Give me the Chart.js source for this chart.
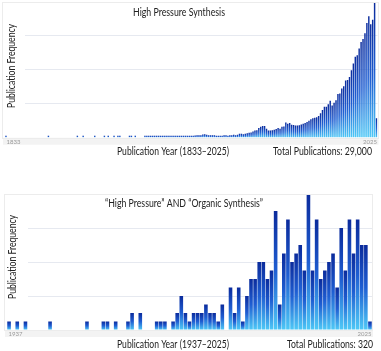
<!DOCTYPE html>
<html><head><meta charset="utf-8">
<script src="https://cdn.jsdelivr.net/npm/chart.js@4.4.0/dist/chart.umd.min.js"></script>
<style>
html,body{margin:0;padding:0;background:#fff;width:381px;height:351px;overflow:hidden}
.wrap{position:absolute;left:0;width:381px}
#w1{top:0;height:160px}
#w2{top:175px;height:176px}
canvas{display:block}
</style></head><body>
<div class="wrap" id="w1"><canvas id="c1" width="381" height="160"></canvas></div>
<div class="wrap" id="w2"><canvas id="c2" width="381" height="176"></canvas></div>
<script>
// ---- data ----
const years1 = [];
for (let y = 1833; y <= 2025; y++) years1.push(String(y));
const pubs1 = [
  // 1833-1904
  2,0,0,0,0,0,0,0,0,0,
  0,0,0,0,0,0,0,0,0,0,
  0,0,1,0,0,0,0,0,0,0,
  0,0,0,0,0,0,0,1,0,0,
  2,0,0,0,0,0,1,0,0,0,
  0,1,0,1,0,0,2,0,1,1,
  0,0,0,0,1,2,0,1,0,0,
  0,0,
  // 1905-1924
  4,3,5,4,6,5,4,6,7,5,6,8,7,6,8,9,7,8,10,9,
  // 1925-1958
  18,17,19,23,24,22,25,29,28,30,39,41,35,30,29,28,30,14,12,12,18,29,30,24,29,30,35,29,35,47,46,41,47,53,
  // 1959-1993
  58,61,74,85,88,114,129,137,139,106,86,84,87,94,102,114,106,129,133,180,165,173,153,149,145,143,146,156,165,173,185,200,218,229,235,
  // 1994-2025
  240,255,287,326,365,364,393,435,381,412,443,514,522,581,608,675,679,717,796,875,953,973,1051,1129,1164,1231,1352,1431,1337,1392,1595,228
];
const ticks1 = ['1833', '2025'];
const title1 = 'High Pressure Synthesis';
const xTitle1 = 'Publication Year (1833–2025)';
const total1 = 'Total Publications: 29,000';

const years2 = [];
for (let y = 1937; y <= 2025; y++) years2.push(String(y));
const pubs2 = [
  1,0,1,0,1,0,0,0,0,0,
  1,0,0,0,0,0,0,0,0,1,
  0,0,0,1,1,0,1,0,0,1,
  2,0,2,0,0,0,1,1,1,0,
  1,2,4,2,1,2,2,2,3,2,
  2,1,3,0,5,2,5,1,4,6,
  6,8,8,6,7,14,3,9,13,8,
  9,10,7,16,7,13,6,7,8,9,
  5,12,7,13,9,13,10,10,1
];
const ticks2 = ['1937', '2025'];
const title2 = '“High Pressure” AND “Organic Synthesis”';
const xTitle2 = 'Publication Year (1937–2025)';
const total2 = 'Total Publications: 320';
const yTitle = 'Publication Frequency';

// ---- helpers ----
const FONT = 'Lato, "Open Sans", sans-serif';
function drawText(c, text, x, y, align, size, width, color, rot) {
  c.save();
  c.font = size + 'px ' + FONT;
  c.fillStyle = color;
  c.textBaseline = 'middle';
  c.textAlign = align;
  const w = c.measureText(text).width;
  const sx = width ? width / w : 1;
  c.translate(x, y);
  if (rot) c.rotate(-Math.PI / 2);
  c.scale(sx, 1);
  c.fillText(text, 0, 0);
  c.restore();
}
function barGradient(minLen) {
  return function (ctx) {
    if (ctx.type !== 'data') return '#1f5fd2';
    const chart = ctx.chart;
    const ys = chart.scales.y;
    const v = ctx.raw;
    if (v == null || !chart.chartArea) return '#1f5fd2';
    const base = ys.getPixelForValue(0);
    const top = Math.min(ys.getPixelForValue(v), base - minLen);
    const g = chart.ctx.createLinearGradient(0, top, 0, base);
    g.addColorStop(0, '#0b2b9c');
    g.addColorStop(0.5, '#1f5ed2');
    g.addColorStop(1, '#4fcaf7');
    return g;
  };
}
function deco(cfg) {
  return {
    id: 'deco' + cfg.name,
    beforeDraw(chart) {
      const c = chart.ctx, a = chart.chartArea;
      c.save();
      c.fillStyle = '#f3f3f3';
      c.fillRect(a.left - 2, a.bottom, a.right - a.left + 3, cfg.bandH);
      c.restore();
    },
    beforeDatasetsDraw(chart) {
      const c = chart.ctx, a = chart.chartArea;
      c.save();
      c.fillStyle = '#fff';
      c.fillRect(a.left, a.top + 1, cfg.gridStart - a.left, a.bottom - a.top - 2);
      c.restore();
    },
    afterDraw(chart) {
      const c = chart.ctx, a = chart.chartArea;
      c.save();
      c.strokeStyle = '#ececec';
      c.lineWidth = 1;
      c.strokeRect(Math.round(a.left) - 2.5, Math.round(a.top) + 0.5, Math.round(a.right - a.left) + 3, Math.round(a.bottom - a.top));
      c.restore();
      const t = cfg.texts;
      drawText(c, t.title, t.titleX, t.titleY, 'center', 10.5, t.titleW, '#222');
      drawText(c, yTitle, t.yX, t.yY, 'center', 10.5, 84, '#222', true);
      drawText(c, t.xTitle, t.xX, t.footY, 'center', 10.5, t.xW, '#222');
      drawText(c, t.total, t.totR, t.footY, 'right', 10.5, t.totW, '#222');
      drawText(c, t.ticks[0], a.left + 1.5, t.tickY, 'left', 6, 0, '#9a9a9a');
      drawText(c, t.ticks[1], a.right - 0.5, t.tickY, 'right', 6, 0, '#9a9a9a');
    }
  };
}
function makeChart(id, labels, values, yMax, yStep, pad, barPct, minLen, cfg) {
  return new Chart(document.getElementById(id), {
    type: 'bar',
    data: {
      labels: labels,
      datasets: [{
        data: values.map(v => v === 0 ? null : v),
        backgroundColor: barGradient(minLen),
        borderWidth: 0,
        barPercentage: barPct,
        categoryPercentage: 1,
        minBarLength: minLen
      }]
    },
    options: {
      responsive: false,
      maintainAspectRatio: false,
      devicePixelRatio: 1,
      animation: false,
      layout: { padding: pad },
      plugins: { legend: { display: false }, tooltip: { enabled: false }, title: { display: false } },
      scales: {
        x: { display: false, offset: true },
        y: {
          display: true, min: 0, max: yMax,
          ticks: { display: false, stepSize: yStep },
          border: { display: false },
          grid: {
            drawTicks: false,
            color: ctx => (ctx.tick && ctx.tick.value === 0) ? 'rgba(0,0,0,0)' : '#e6e9f0'
          }
        }
      }
    },
    plugins: [deco(cfg)]
  });
}

makeChart('c1', years1, pubs1, 1600, 400,
  { left: 5, right: 3.5, top: 2, bottom: 22.3 }, 0.75, 2,
  { name: '1', bandH: 7, gridStart: 25,
    texts: { title: title1, titleX: 179, titleY: 13, titleW: 92,
      yX: 12, yY: 66, xTitle: xTitle1, xX: 173, xW: 112, footY: 152,
      total: total1, totR: 372, totW: 99, ticks: ticks1, tickY: 142.5 } });

makeChart('c2', years2, pubs2, 16, 4,
  { left: 7, right: 9, top: 19, bottom: 21 }, 0.88, 0,
  { name: '2', bandH: 7, gridStart: 28,
    texts: { title: title2, titleX: 184, titleY: 29, titleW: 158,
      yX: 13, yY: 82, xTitle: xTitle2, xX: 173, xW: 112, footY: 170,
      total: total2, totR: 373, totW: 86, ticks: ticks2, tickY: 159 } });
</script>
</body></html>
